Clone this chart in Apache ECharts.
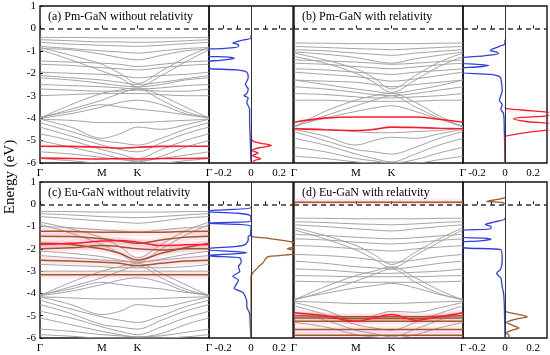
<!DOCTYPE html>
<html><head><meta charset="utf-8">
<script src="https://cdn.jsdelivr.net/npm/echarts@6/dist/echarts.min.js"></script>
<style>html,body{margin:0;padding:0;background:#fff}#c{width:550px;height:355px}</style>
</head><body><div id="c"></div>
<script>
// ---- k-path & tick labels ----
const kPath = [0, 0.5, 1, 1.289, 1.577, 1.962, 2.347, 2.732];
const kTickPos = [0, 1, 1.577, 2.732];
const kTickLabels = ['Γ', 'M', 'K', 'Γ'];
const dosTickLabels = [-0.2, 0, 0.2];
const dosTickMarks = [-0.2, -0.1, 0, 0.1, 0.2];
const panelTitles = ['(a) Pm-GaN without relativity', '(b) Pm-GaN with relativity',
                     '(c) Eu-GaN without relativity', '(d) Eu-GaN with relativity'];
const yAxisName = 'Energy (eV)';

// ---- (a) Pm-GaN without relativity ----
const bandsA = [
 [-0.40,-0.40,-0.42,-0.42,-0.42,-0.42,-0.41,-0.40],
 [-0.50,-0.55,-0.60,-0.60,-0.62,-0.60,-0.55,-0.50],
 [-0.62,-0.70,-0.75,-0.78,-0.80,-0.75,-0.68,-0.62],
 [-0.80,-0.90,-1.00,-1.05,-1.10,-1.00,-0.90,-0.85],
 [-0.90,-0.95,-1.15,-1.30,-1.40,-1.20,-1.00,-0.92],
 [-0.85,-1.20,-1.60,-2.00,-2.45,-1.90,-1.30,-0.85],
 [-0.95,-1.40,-1.90,-2.20,-2.60,-2.10,-1.50,-0.95],
 [-1.45,-1.50,-1.55,-1.60,-1.70,-1.60,-1.50,-1.45],
 [-1.60,-1.65,-1.75,-1.80,-1.85,-1.75,-1.65,-1.60],
 [-1.95,-2.00,-2.05,-2.10,-2.20,-2.10,-2.05,-1.95],
 [-2.10,-2.20,-2.30,-2.40,-2.50,-2.40,-2.25,-2.10],
 [-2.20,-2.30,-2.45,-2.55,-2.60,-2.50,-2.30,-2.20],
 [-2.50,-2.55,-2.60,-2.65,-2.70,-2.65,-2.55,-2.50],
 [-2.70,-2.75,-2.80,-2.80,-2.75,-2.80,-2.80,-2.70],
 [-3.00,-2.95,-2.90,-2.90,-2.90,-2.95,-3.00,-3.00],
 [-4.00,-3.40,-2.90,-2.75,-2.65,-3.00,-3.50,-4.00],
 [-4.00,-3.60,-3.20,-2.90,-2.70,-3.20,-3.70,-4.00],
 [-4.00,-3.80,-3.50,-3.30,-3.20,-3.40,-3.80,-4.00],
 [-3.95,-3.70,-3.40,-3.50,-3.60,-3.70,-3.85,-3.95],
 [-4.05,-4.10,-4.20,-4.20,-4.20,-4.15,-4.10,-4.05],
 [-4.05,-4.40,-4.90,-4.70,-4.40,-4.50,-4.30,-4.05],
 [-4.20,-4.60,-5.00,-5.10,-5.20,-4.90,-4.50,-4.20],
 [-4.40,-4.80,-5.20,-5.40,-5.50,-5.10,-4.70,-4.40],
 [-4.70,-5.00,-5.40,-5.60,-5.80,-5.40,-5.00,-4.70],
 [-5.00,-5.30,-5.60,-5.80,-5.95,-5.70,-5.30,-5.00],
 [-5.50,-5.60,-5.75,-5.85,-5.90,-5.80,-5.65,-5.50],
 [-5.80,-5.90,-6.00,-6.00,-6.00,-6.00,-5.90,-5.80]
];
const impA = [
 [-5.25,-5.26,-5.30,-5.34,-5.30,-5.26,-5.25,-5.25],
 [-5.78,-5.80,-5.82,-5.80,-5.82,-5.80,-5.80,-5.78]
];
const dosA_host = [[-0.30,0],[-0.43,0],[-0.55,-0.08],[-0.65,-0.13],[-0.72,-0.09],[-0.82,-0.09],[-0.90,-0.22],[-0.95,-0.35],[-1.20,-0.35],[-1.28,-0.16],[-1.34,-0.12],[-1.42,-0.22],[-1.52,-0.35],[-1.75,-0.35],[-1.85,-0.10],[-1.95,-0.03],[-2.20,-0.02],[-2.50,-0.04],[-2.70,-0.02],[-2.90,-0.03],[-3.00,-0.05],[-3.10,-0.02],[-3.30,-0.03],[-3.60,-0.01],[-4.00,-0.01],[-5.00,-0.005],[-6.00,0]];
const dosA_imp = [[-4.90,0],[-5.05,0.02],[-5.15,0.10],[-5.22,0.145],[-5.32,0.06],[-5.44,0.006],[-5.56,0.05],[-5.67,0.01],[-5.81,0.07],[-5.90,0.02],[-6.00,0.02]];

// ---- (b) Pm-GaN with relativity ----
const bandsB = [
 [-0.65,-0.66,-0.68,-0.68,-0.68,-0.68,-0.66,-0.65],
 [-0.80,-0.85,-0.90,-0.92,-0.95,-0.90,-0.85,-0.80],
 [-0.95,-1.00,-1.10,-1.15,-1.20,-1.10,-1.02,-0.95],
 [-1.05,-1.15,-1.30,-1.45,-1.55,-1.35,-1.20,-1.05],
 [-1.10,-1.40,-1.80,-2.20,-2.70,-2.10,-1.50,-1.10],
 [-1.25,-1.55,-2.00,-2.40,-2.85,-2.30,-1.70,-1.25],
 [-1.40,-1.45,-1.50,-1.55,-1.60,-1.55,-1.48,-1.40],
 [-1.55,-1.60,-1.70,-1.75,-1.80,-1.72,-1.62,-1.55],
 [-1.80,-1.85,-1.95,-2.00,-2.05,-1.95,-1.88,-1.80],
 [-1.95,-2.05,-2.15,-2.25,-2.35,-2.25,-2.10,-1.95],
 [-2.30,-2.35,-2.40,-2.50,-2.60,-2.50,-2.40,-2.30],
 [-2.30,-2.50,-2.70,-2.80,-2.90,-2.75,-2.55,-2.30],
 [-2.60,-2.70,-2.85,-2.95,-3.00,-2.90,-2.75,-2.60],
 [-2.90,-2.95,-3.05,-3.10,-3.10,-3.05,-3.00,-2.90],
 [-3.20,-3.20,-3.25,-3.25,-3.25,-3.25,-3.20,-3.20],
 [-4.40,-3.70,-3.20,-3.00,-2.90,-3.30,-3.90,-4.40],
 [-4.40,-3.90,-3.45,-3.20,-3.00,-3.50,-4.00,-4.40],
 [-4.35,-4.00,-3.70,-3.55,-3.45,-3.70,-4.05,-4.35],
 [-4.45,-4.50,-4.60,-4.65,-4.65,-4.60,-4.55,-4.45],
 [-4.50,-4.80,-5.20,-5.00,-4.85,-4.90,-4.70,-4.50],
 [-4.60,-5.00,-5.40,-5.50,-5.60,-5.30,-4.90,-4.60],
 [-4.90,-5.20,-5.60,-5.80,-5.95,-5.60,-5.20,-4.90],
 [-5.30,-5.50,-5.80,-5.90,-6.00,-5.85,-5.55,-5.30],
 [-5.70,-5.80,-5.95,-6.00,-6.00,-6.00,-5.85,-5.70]
];
const impB = [
 [-4.18,-4.00,-3.95,-3.95,-3.95,-3.95,-4.05,-4.18],
 [-4.47,-4.52,-4.55,-4.50,-4.40,-4.42,-4.45,-4.47]
];
const dosB_host = [[-0.50,0],[-0.68,0],[-0.80,-0.04],[-0.98,-0.105],[-1.06,-0.06],[-1.13,-0.047],[-1.22,-0.15],[-1.35,-0.35],[-1.52,-0.35],[-1.60,-0.20],[-1.65,-0.117],[-1.72,-0.20],[-1.79,-0.35],[-1.95,-0.35],[-2.05,-0.10],[-2.17,-0.035],[-2.40,-0.025],[-2.80,-0.02],[-3.00,-0.03],[-3.20,-0.04],[-3.40,-0.02],[-3.60,-0.03],[-3.80,-0.01],[-4.50,-0.005],[-6.00,0]];
const dosB_imp = [[-3.50,0],[-3.58,0.01],[-3.68,0.20],[-3.78,0.35],[-3.90,0.30],[-3.97,0.12],[-4.03,0.06],[-4.15,0.15],[-4.28,0.35],[-4.47,0.35],[-4.60,0.20],[-4.75,0.05],[-4.85,0],[-6.00,0]];

// ---- (c) Eu-GaN without relativity ----
const bandsC = [
 [-0.32,-0.33,-0.35,-0.35,-0.35,-0.35,-0.33,-0.32],
 [-0.42,-0.48,-0.55,-0.58,-0.60,-0.55,-0.48,-0.42],
 [-0.55,-0.65,-0.75,-0.80,-0.85,-0.75,-0.62,-0.55],
 [-0.80,-1.10,-1.50,-1.90,-2.40,-1.80,-1.20,-0.80],
 [-0.90,-1.30,-1.80,-2.20,-2.60,-2.00,-1.40,-0.90],
 [-1.00,-1.05,-1.15,-1.20,-1.25,-1.15,-1.05,-1.00],
 [-2.10,-2.20,-2.35,-2.50,-2.60,-2.45,-2.25,-2.10],
 [-2.30,-2.40,-2.50,-2.55,-2.60,-2.50,-2.40,-2.30],
 [-2.70,-2.75,-2.80,-2.85,-2.85,-2.85,-2.80,-2.70],
 [-3.00,-3.00,-3.00,-3.00,-3.00,-3.00,-3.00,-3.00],
 [-4.10,-3.50,-3.00,-2.80,-2.65,-3.10,-3.60,-4.10],
 [-4.10,-3.70,-3.30,-3.00,-2.75,-3.30,-3.80,-4.10],
 [-4.10,-3.90,-3.60,-3.40,-3.30,-3.50,-3.90,-4.10],
 [-4.05,-3.80,-3.50,-3.60,-3.70,-3.80,-3.95,-4.05],
 [-4.15,-4.20,-4.25,-4.25,-4.25,-4.22,-4.18,-4.15],
 [-4.15,-4.50,-4.95,-4.80,-4.50,-4.60,-4.40,-4.15],
 [-4.30,-4.70,-5.05,-5.20,-5.30,-5.00,-4.60,-4.30],
 [-4.50,-4.90,-5.40,-5.50,-5.60,-5.20,-4.80,-4.50],
 [-4.80,-5.10,-5.50,-5.70,-5.85,-5.50,-5.10,-4.80],
 [-5.10,-5.40,-5.70,-5.85,-5.95,-5.80,-5.40,-5.10],
 [-5.60,-5.70,-5.85,-5.90,-5.95,-5.90,-5.75,-5.60],
 [-5.85,-5.92,-6.00,-6.00,-6.00,-6.00,-5.95,-5.85]
];
const impC = [
 [-1.21,-1.22,-1.25,-1.25,-1.25,-1.25,-1.22,-1.21],
 [-1.43,-1.45,-1.55,-1.65,-1.75,-1.60,-1.48,-1.43],
 [-1.99,-1.95,-1.85,-1.90,-2.00,-2.05,-2.00,-1.99],
 [-1.75,-1.80,-2.00,-2.20,-2.50,-2.20,-1.95,-1.75],
 [-2.51,-2.55,-2.60,-2.65,-2.75,-2.65,-2.55,-2.51],
 [-3.16,-3.16,-3.16,-3.16,-3.16,-3.16,-3.16,-3.16]
];
const impC_red = [
 [-1.81,-1.75,-1.65,-1.62,-1.70,-1.85,-1.82,-1.81]
];
const dosC_host = [[-0.10,0],[-0.17,0],[-0.25,-0.20],[-0.32,-0.35],[-0.40,-0.10],[-0.50,-0.005],[-0.75,0],[-0.80,-0.10],[-0.85,-0.35],[-0.90,-0.10],[-1.00,0],[-1.40,-0.005],[-1.44,-0.02],[-1.60,-0.02],[-1.80,-0.04],[-1.89,-0.10],[-1.97,-0.30],[-2.04,-0.35],[-2.12,-0.10],[-2.18,-0.03],[-2.25,-0.20],[-2.30,-0.35],[-2.35,-0.20],[-2.40,-0.08],[-2.60,-0.07],[-2.80,-0.09],[-3.00,-0.08],[-3.23,-0.13],[-3.40,-0.09],[-3.55,-0.10],[-3.77,-0.12],[-3.95,-0.06],[-4.15,-0.04],[-4.40,-0.03],[-4.60,-0.03],[-4.90,-0.01],[-5.50,-0.005],[-6.00,0]];
const dosC_imp = [[-1.40,0],[-1.45,0.01],[-1.52,0.11],[-1.60,0.20],[-1.68,0.28],[-1.75,0.33],[-1.90,0.32],[-2.00,0.26],[-2.08,0.32],[-2.20,0.33],[-2.30,0.20],[-2.34,0.13],[-2.40,0.11],[-2.63,0.085],[-2.83,0.05],[-3.07,0.014],[-3.23,0],[-6.00,0]];

// ---- (d) Eu-GaN with relativity ----
const bandsD = [
 [-0.62,-0.63,-0.65,-0.65,-0.65,-0.65,-0.63,-0.62],
 [-0.78,-0.82,-0.88,-0.90,-0.92,-0.88,-0.82,-0.78],
 [-0.92,-1.00,-1.10,-1.15,-1.20,-1.10,-1.00,-0.92],
 [-1.05,-1.40,-1.85,-2.25,-2.70,-2.15,-1.55,-1.05],
 [-1.15,-1.55,-2.05,-2.45,-2.85,-2.30,-1.70,-1.15],
 [-1.35,-1.40,-1.48,-1.52,-1.55,-1.50,-1.42,-1.35],
 [-1.55,-1.60,-1.70,-1.75,-1.78,-1.72,-1.62,-1.55],
 [-1.85,-1.90,-2.00,-2.05,-2.10,-2.00,-1.92,-1.85],
 [-2.25,-2.30,-2.40,-2.50,-2.60,-2.50,-2.35,-2.25],
 [-2.55,-2.65,-2.80,-2.85,-2.90,-2.80,-2.65,-2.55],
 [-2.90,-2.95,-3.05,-3.10,-3.10,-3.05,-3.00,-2.90],
 [-3.20,-3.22,-3.25,-3.25,-3.25,-3.25,-3.22,-3.20],
 [-3.45,-3.48,-3.50,-3.50,-3.50,-3.50,-3.48,-3.45],
 [-4.30,-3.70,-3.20,-3.00,-2.80,-3.30,-3.85,-4.30],
 [-4.30,-3.90,-3.45,-3.15,-2.90,-3.50,-4.00,-4.30],
 [-4.25,-4.00,-3.75,-3.65,-3.55,-3.75,-4.05,-4.25],
 [-4.35,-4.40,-4.45,-4.45,-4.45,-4.42,-4.38,-4.35],
 [-4.40,-4.75,-5.20,-5.00,-4.80,-4.85,-4.65,-4.40],
 [-4.55,-4.95,-5.40,-5.55,-5.65,-5.30,-4.90,-4.55],
 [-4.85,-5.20,-5.65,-5.80,-5.95,-5.60,-5.20,-4.85],
 [-5.30,-5.50,-5.85,-5.95,-6.00,-5.85,-5.55,-5.30]
];
const impD = [
 [0.09,0.09,0.09,0.09,0.09,0.09,0.09,0.09],
 [-5.00,-5.02,-5.05,-5.05,-5.05,-5.05,-5.02,-5.00],
 [-5.10,-5.10,-5.12,-5.12,-5.12,-5.12,-5.10,-5.10],
 [-5.25,-5.25,-5.25,-5.25,-5.25,-5.25,-5.25,-5.25],
 [-5.62,-5.62,-5.62,-5.62,-5.62,-5.62,-5.62,-5.62],
 [-5.88,-5.88,-5.88,-5.88,-5.88,-5.88,-5.88,-5.88]
];
const impD_red = [
 [-4.87,-5.00,-5.25,-5.10,-4.95,-5.20,-5.05,-4.87]
];
const dosD_host = [[-0.60,0],[-0.66,0],[-0.80,-0.08],[-0.91,-0.14],[-1.00,-0.10],[-1.10,-0.10],[-1.20,-0.35],[-1.45,-0.35],[-1.52,-0.15],[-1.58,-0.10],[-1.65,-0.20],[-1.73,-0.35],[-1.95,-0.30],[-2.04,-0.03],[-2.50,-0.02],[-2.90,-0.03],[-3.10,-0.06],[-3.30,-0.03],[-3.70,-0.02],[-4.00,-0.01],[-4.50,-0.005],[-6.00,0]];
const dosD_impTop = [[0.30,0],[0.22,-0.05],[0.13,-0.13],[0.08,-0.02],[0.02,0]];
const dosD_imp = [[-4.75,0],[-4.83,0.01],[-4.95,0.10],[-5.05,0.16],[-5.15,0.08],[-5.30,0.01],[-5.42,0.05],[-5.55,0.10],[-5.65,0.05],[-5.77,0.01],[-5.90,0.03],[-6.00,0.02]];

// ---- styling ----
const FONT = '"Liberation Serif", "Times New Roman", serif';
const C_GRAY = '#a3a3a3', C_RED = '#ff1a2e', C_BROWN = '#9c5a2a', C_BLUE = '#2f3fe0', C_PINK = 'rgba(255,120,160,0.18)';

const chart = echarts.init(document.getElementById('c'), null, {renderer: 'canvas'});
const grids = [], xAxes = [], yAxes = [], series = [];
const layout = [
  {bx: 40, dx: 209, top: 6, h: 157, ylab: true},
  {bx: 294, dx: 463, top: 6, h: 157, ylab: false},
  {bx: 40, dx: 209, top: 182, h: 156, ylab: true},
  {bx: 294, dx: 463, top: 182, h: 156, ylab: false}
];
function nearestLabel(v){ let bi=0; kTickPos.forEach((p,i)=>{ if (Math.abs(p-v) < Math.abs(kTickPos[bi]-v)) bi=i; }); return kTickLabels[bi]; }
const zeroDash = {silent: true, symbol: 'none', label: {show: false}, animation: false,
  lineStyle: {type: [5, 4], color: '#333', width: 1.6}, data: [{yAxis: 0}]};

layout.forEach((L, p) => {
  const gb = grids.length;
  grids.push({left: L.bx, top: L.top, width: L.dx - L.bx, height: L.h, show: true, borderColor: '#111', borderWidth: 1.4, backgroundColor: 'transparent'});
  grids.push({left: L.dx, top: L.top, width: 84, height: L.h, show: true, borderColor: '#111', borderWidth: 1.4, backgroundColor: 'transparent'});
  xAxes.push({gridIndex: gb, type: 'value', min: 0, max: 2.732, axisLine: {show: false}, splitLine: {show: false},
    axisTick: {show: true, inside: true, length: 3, customValues: kTickPos, lineStyle: {color: '#111'}},
    axisLabel: {customValues: kTickPos, formatter: v => nearestLabel(v), fontFamily: FONT, fontSize: 11, color: '#000', margin: 5}});
  xAxes.push({gridIndex: gb + 1, type: 'value', min: -0.3, max: 0.3, axisLine: {show: false}, splitLine: {show: false},
    axisTick: {show: true, inside: true, length: 3, customValues: dosTickMarks, lineStyle: {color: '#111'}},
    axisLabel: {customValues: dosTickLabels, formatter: v => (Math.abs(v) < 1e-9 ? '0' : v.toFixed(1)), fontFamily: FONT, fontSize: 11, color: '#000', margin: 5}});
  yAxes.push({gridIndex: gb, type: 'value', min: -6, max: 1, interval: 1, axisLine: {show: false}, splitLine: {show: false},
    axisTick: {show: L.ylab, inside: true, length: 3, lineStyle: {color: '#111'}},
    axisLabel: {show: L.ylab, fontFamily: FONT, fontSize: 11, color: '#000', margin: 4}});
  yAxes.push({gridIndex: gb + 1, type: 'value', min: -6, max: 1, interval: 1, axisLine: {show: false}, splitLine: {show: false},
    axisTick: {show: false}, axisLabel: {show: false}});
});

function addBands(bands, gi, color, width, z, mark) {
  bands.forEach((b, i) => {
    const s = {type: 'line', xAxisIndex: gi, yAxisIndex: gi, data: kPath.map((k, j) => [k, b[j]]),
      smooth: 0.35, symbol: 'none', lineStyle: {color: color, width: width}, z: z, silent: true, animation: false};
    if (mark && i === 0) s.markLine = zeroDash;
    series.push(s);
  });
}
function addDos(pairs, gi, color, z, mark) {
  const s = {type: 'line', xAxisIndex: gi, yAxisIndex: gi, data: pairs.map(d => [d[1], d[0]]),
    smooth: 0.25, symbol: 'none', lineStyle: {color: color, width: 1.3}, z: z, silent: true, animation: false};
  if (mark) s.markLine = {silent: true, symbol: 'none', label: {show: false}, animation: false,
    data: [{yAxis: 0, lineStyle: {type: [5, 4], color: '#333', width: 1.6}},
           {xAxis: 0, lineStyle: {type: 'solid', color: '#333', width: 1}}]};
  series.push(s);
}

// (a)
addBands(bandsA, 0, C_GRAY, 1, 2, true);
addBands(impA, 0, C_RED, 1.6, 5, false);
addDos(dosA_host, 1, C_BLUE, 4, true);
addDos(dosA_imp, 1, C_RED, 4, false);
// (b)
addBands(bandsB, 2, C_GRAY, 1, 2, true);
addBands(impB, 2, C_RED, 1.6, 5, false);
addDos(dosB_host, 3, C_BLUE, 4, true);
addDos(dosB_imp, 3, C_RED, 4, false);
// (c)
addBands(bandsC, 4, C_GRAY, 1, 2, true);
addBands(impC.concat(impC_red), 4, C_PINK, 7, 3, false);
addBands(impC, 4, C_BROWN, 1.5, 5, false);
addBands(impC_red, 4, C_RED, 1.5, 5, false);
addDos(dosC_host, 5, C_BLUE, 4, true);
addDos(dosC_imp, 5, C_BROWN, 4, false);
// (d)
addBands(bandsD, 6, C_GRAY, 1, 2, true);
addBands(impD.concat(impD_red), 6, C_PINK, 7, 3, false);
addBands(impD, 6, C_BROWN, 1.5, 5, false);
addBands(impD_red, 6, C_RED, 1.5, 5, false);
addDos(dosD_host, 7, C_BLUE, 4, true);
addDos(dosD_impTop, 7, C_BROWN, 4, false);
addDos(dosD_imp, 7, C_BROWN, 4, false);

const titlePos = [[48, 11], [302, 11], [48, 187], [302, 187]];
const graphics = panelTitles.map((t, i) => ({type: 'text', x: titlePos[i][0], y: titlePos[i][1], z: 100,
  style: {text: t, font: '12px ' + FONT, fill: '#000', textVerticalAlign: 'top'}}));
graphics.push({type: 'text', x: 10, y: 177, rotation: Math.PI / 2, z: 100,
  style: {text: yAxisName, font: '15px ' + FONT, fill: '#000', textAlign: 'center', textVerticalAlign: 'middle'}});

chart.setOption({animation: false, backgroundColor: '#fff', grid: grids, xAxis: xAxes, yAxis: yAxes, series: series, graphic: graphics});
</script>
</body></html>
